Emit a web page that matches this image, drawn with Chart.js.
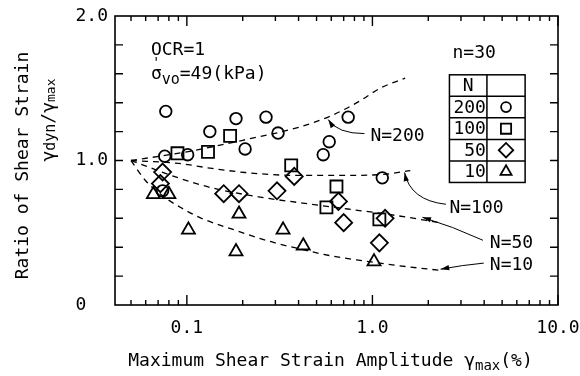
<!DOCTYPE html>
<html>
<head>
<meta charset="utf-8">
<script src="https://cdn.jsdelivr.net/npm/chart.js@4.4.1/dist/chart.umd.min.js"></script>
<style>
  html, body { margin: 0; padding: 0; background: #fff; }
  #wrap { width: 580px; height: 376px; }
</style>
</head>
<body>
<div id="wrap"><canvas id="strainChart" width="580" height="376"></canvas></div>
<script>
// measured points, one pair of arrays per number of cycles N
var n200X = [0.077, 0.076, 0.101, 0.133, 0.184, 0.267, 0.206, 0.31, 0.74, 0.585, 0.543, 1.13, 0.074];
var n200Y = [1.34, 1.03, 1.04, 1.20, 1.29, 1.30, 1.08, 1.19, 1.30, 1.13, 1.04, 0.88, 0.79];
var n100X = [0.089, 0.13, 0.171, 0.365, 0.64, 0.565, 1.09];
var n100Y = [1.05, 1.06, 1.17, 0.966, 0.82, 0.676, 0.593];
var n50X = [0.074, 0.072, 0.158, 0.191, 0.306, 0.379, 0.656, 0.70, 1.09, 1.17];
var n50Y = [0.92, 0.84, 0.77, 0.77, 0.79, 0.89, 0.717, 0.57, 0.43, 0.60];
var n10X = [0.066, 0.08, 0.102, 0.191, 0.184, 0.33, 0.424, 1.02];
var n10Y = [0.766, 0.766, 0.52, 0.63, 0.37, 0.52, 0.41, 0.30];

// dashed trend curves
var c200X = [0.05, 0.1, 0.2, 0.4, 0.6, 0.85, 1.1, 1.5];
var c200Y = [1.0, 1.06, 1.14, 1.23, 1.31, 1.41, 1.50, 1.57];
var c100X = [0.05, 0.09, 0.137, 0.206, 0.384, 0.69, 1.13, 1.6];
var c100Y = [1.0, 0.98, 0.945, 0.917, 0.897, 0.897, 0.903, 0.93];
var c50X = [0.05, 0.09, 0.137, 0.254, 0.517, 1.33, 2.3];
var c50Y = [1.0, 0.88, 0.81, 0.745, 0.69, 0.62, 0.57];
var c10X = [0.05, 0.06, 0.075, 0.094, 0.12, 0.18, 0.28, 0.4, 0.6, 0.9, 1.33, 2.3];
var c10Y = [1.0, 0.86, 0.75, 0.67, 0.60, 0.52, 0.44, 0.39, 0.34, 0.305, 0.275, 0.24];

var cycleLabels = ['200', '100', '50', '10'];
var xTickValues = [0.1, 1, 10];
var yTickValues = [0, 1, 2];

function pts(xs, ys) {
    return xs.map(function (v, i) { return { x: v, y: ys[i] }; });
}

var FONT = 'DejaVu Sans Mono';
var FS = 18;
Chart.defaults.font.family = FONT;
Chart.defaults.font.size = FS;
Chart.defaults.color = '#000';

var markerStyles = [
    { style: 'circle', radius: 5.8 },
    { style: 'rect', radius: 8.5 },
    { style: 'rectRot', radius: 8.5 },
    { style: 'triangle', radius: 7.5 }
];

function curve(xs, ys) {
    return {
        data: pts(xs, ys),
        showLine: true,
        borderColor: '#000',
        borderWidth: 1.3,
        borderDash: [6, 5],
        pointRadius: 0,
        cubicInterpolationMode: 'monotone',
        fill: false
    };
}

function markers(xs, ys, m) {
    return {
        data: pts(xs, ys),
        showLine: false,
        pointStyle: m.style,
        pointRadius: m.radius,
        pointBorderColor: '#000',
        pointBackgroundColor: 'rgba(0,0,0,0)',
        pointBorderWidth: 1.8
    };
}

// text with sub/superscript pieces: [text, size, dy]
function rich(ctx, parts, x, y, align) {
    var total = 0;
    parts.forEach(function (p) { ctx.font = p[1] + 'px "' + FONT + '"'; total += ctx.measureText(p[0]).width; });
    var cx = align === 'center' ? x - total / 2 : x;
    ctx.textAlign = 'left';
    ctx.textBaseline = 'middle';
    parts.forEach(function (p) {
        ctx.font = p[1] + 'px "' + FONT + '"';
        ctx.fillText(p[0], cx, y + (p[2] || 0));
        cx += ctx.measureText(p[0]).width;
    });
}

function arrow(ctx, x0, y0, cx, cy, x1, y1) {
    ctx.beginPath();
    ctx.moveTo(x0, y0);
    ctx.quadraticCurveTo(cx, cy, x1, y1);
    ctx.stroke();
    var ang = Math.atan2(y1 - cy, x1 - cx);
    ctx.beginPath();
    ctx.moveTo(x1, y1);
    ctx.lineTo(x1 - 9 * Math.cos(ang - 0.3), y1 - 9 * Math.sin(ang - 0.3));
    ctx.lineTo(x1 - 9 * Math.cos(ang + 0.3), y1 - 9 * Math.sin(ang + 0.3));
    ctx.closePath();
    ctx.fill();
}

var decorations = {
    id: 'decorations',
    afterDraw: function (chart) {
        var ctx = chart.ctx, a = chart.chartArea;
        var sx = chart.scales.x, sy = chart.scales.y;
        var X = function (v) { return sx.getPixelForValue(v); };
        var Y = function (v) { return sy.getPixelForValue(v); };
        ctx.save();
        ctx.strokeStyle = '#000';
        ctx.fillStyle = '#000';

        // frame
        ctx.lineWidth = 1.6;
        ctx.strokeRect(a.left, a.top, a.right - a.left, a.bottom - a.top);

        // inward ticks
        ctx.lineWidth = 1.4;
        ctx.beginPath();
        for (var d = -2; d <= 1; d++) {
            for (var k = 1; k <= 9; k++) {
                var v = k * Math.pow(10, d);
                if (v < sx.min || v > sx.max + 1e-9) continue;
                var len = k === 1 ? 10 : 5;
                var p = X(v);
                ctx.moveTo(p, a.bottom); ctx.lineTo(p, a.bottom - len);
                ctx.moveTo(p, a.top); ctx.lineTo(p, a.top + len);
            }
        }
        for (var i = 1; i < 10; i++) {
            var q = Y(i * 0.2);
            ctx.moveTo(a.left, q); ctx.lineTo(a.left + 8, q);
            ctx.moveTo(a.right, q); ctx.lineTo(a.right - 8, q);
        }
        ctx.stroke();

        // axis titles
        rich(ctx, [['Maximum Shear Strain Amplitude γ', FS], ['max', 14, 5], ['(%)', FS]], (a.left + a.right) / 2 - 6, 361, 'center');
        ctx.save();
        ctx.translate(23, (a.top + a.bottom) / 2 + 5);
        ctx.rotate(-Math.PI / 2);
        rich(ctx, [['Ratio of Shear Strain', FS]], 0, 0, 'center');
        ctx.restore();
        ctx.save();
        ctx.translate(49, Y(1.28));
        ctx.rotate(-Math.PI / 2);
        rich(ctx, [['γ', FS], ['dyn', 15, 2], ['/γ', FS], ['max', 13, 3]], 0, 0, 'center');
        ctx.restore();

        // conditions
        rich(ctx, [['OCR=1', FS]], X(0.064), Y(1.76), 'left');
        var sx0 = X(0.064);
        rich(ctx, [['σ', FS]], sx0, Y(1.593), 'left');
        ctx.font = FS + 'px "' + FONT + '"';
        var sw = ctx.measureText('σ').width;
        rich(ctx, [['\'', 14, -11]], sx0 + 1, Y(1.593), 'left');
        rich(ctx, [['vo', 15, 5], ['=49(kPa)', FS]], sx0 + sw, Y(1.593), 'left');
        rich(ctx, [['n=30', FS]], X(2.7), Y(1.745), 'left');

        // legend table
        var tl = X(2.6), tm = X(4.14), tr = X(6.65), tt = Y(1.593), tb = Y(0.848);
        var rh = (tb - tt) / 5;
        ctx.lineWidth = 1.5;
        ctx.strokeRect(tl, tt, tr - tl, tb - tt);
        ctx.beginPath();
        ctx.moveTo(tm, tt); ctx.lineTo(tm, tb);
        for (var r = 1; r < 5; r++) { ctx.moveTo(tl, tt + r * rh); ctx.lineTo(tr, tt + r * rh); }
        ctx.stroke();
        rich(ctx, [['N', FS]], (tl + tm) / 2, tt + rh / 2 + 1, 'center');
        cycleLabels.forEach(function (lab, j) {
            var cy = tt + (j + 1.5) * rh;
            ctx.fillStyle = '#000';
            ctx.textAlign = 'right';
            ctx.textBaseline = 'middle';
            ctx.font = FS + 'px "' + FONT + '"';
            ctx.fillText(lab, tm - 1, cy + 1);
            ctx.fillStyle = 'rgba(0,0,0,0)';
            ctx.lineWidth = 1.8;
            var m = markerStyles[j];
            Chart.helpers.drawPoint(ctx, { pointStyle: m.style, radius: m.radius * 0.85, rotation: 0, borderWidth: 1.8 }, (tm + tr) / 2, cy);
        });
        ctx.fillStyle = '#000';

        // curve labels with arrows
        ctx.lineWidth = 1;
        rich(ctx, [['N=200', FS]], X(0.975), Y(1.17), 'left');
        arrow(ctx, X(0.906), Y(1.186), X(0.647), Y(1.186), X(0.578), Y(1.283));
        rich(ctx, [['N=100', FS]], X(2.6), Y(0.669), 'left');
        arrow(ctx, X(2.49), Y(0.697), X(1.6), Y(0.724), X(1.49), Y(0.917));
        rich(ctx, [['N=50', FS]], X(4.29), Y(0.428), 'left');
        arrow(ctx, X(3.94), Y(0.448), X(2.7), Y(0.545), X(1.86), Y(0.607));
        rich(ctx, [['N=10', FS]], X(4.29), Y(0.276), 'left');
        arrow(ctx, X(3.98), Y(0.29), X(3.06), Y(0.276), X(2.33), Y(0.248));

        ctx.restore();
    }
};

var ctx = document.getElementById('strainChart');
var myChart = new Chart(ctx, {
    type: 'scatter',
    data: {
        datasets: [
            curve(c200X, c200Y),
            curve(c100X, c100Y),
            curve(c50X, c50Y),
            curve(c10X, c10Y),
            markers(n200X, n200Y, markerStyles[0]),
            markers(n100X, n100Y, markerStyles[1]),
            markers(n50X, n50Y, markerStyles[2]),
            markers(n10X, n10Y, markerStyles[3])
        ]
    },
    options: {
        responsive: false,
        animation: false,
        layout: { padding: { left: 0, right: 22, top: 16, bottom: 0 } },
        plugins: { legend: { display: false }, tooltip: { enabled: false } },
        scales: {
            x: {
                type: 'logarithmic',
                min: 0.041,
                max: 10,
                grid: { display: false, drawTicks: false },
                border: { display: false },
                afterBuildTicks: function (s) { s.ticks = xTickValues.map(function (v) { return { value: v }; }); },
                afterFit: function (s) { s.height = 71; s.paddingLeft = 0; s.paddingRight = 0; },
                ticks: {
                    padding: 13,
                    maxRotation: 0,
                    callback: function (v) { return v < 1 ? v.toString() : v.toFixed(1); }
                }
            },
            y: {
                min: 0,
                max: 2,
                grid: { display: false, drawTicks: false },
                border: { display: false },
                afterBuildTicks: function (s) { s.ticks = yTickValues.map(function (v) { return { value: v }; }); },
                afterFit: function (s) { s.width = 115; s.paddingTop = 0; s.paddingBottom = 0; },
                ticks: {
                    padding: 7,
                    callback: function (v) { return v === 0 ? '0  ' : v.toFixed(1); }
                }
            }
        }
    },
    plugins: [decorations]
});
</script>
</body>
</html>
